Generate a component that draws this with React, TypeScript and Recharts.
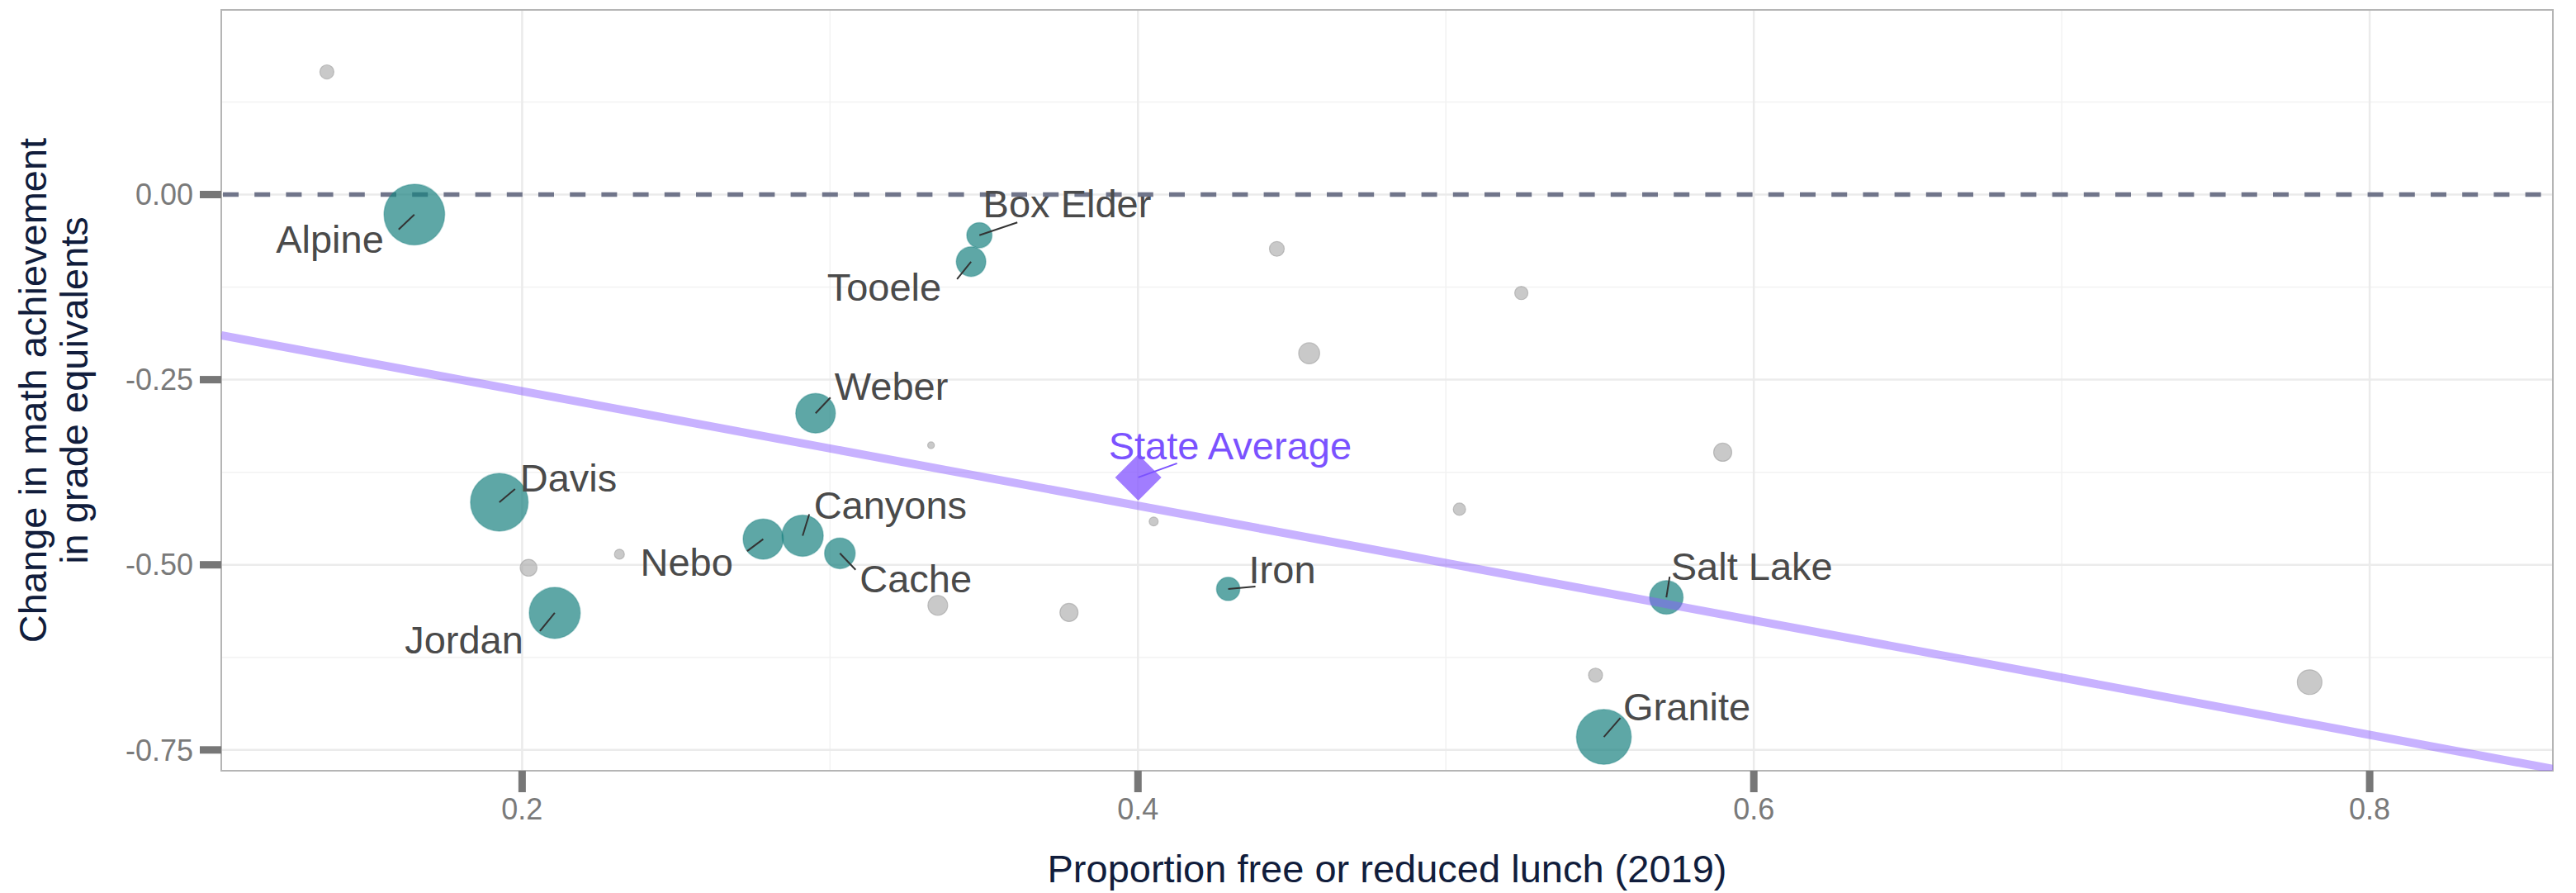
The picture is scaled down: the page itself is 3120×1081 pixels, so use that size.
import React from 'react';
import { ScatterChart, Scatter, XAxis, YAxis, ZAxis, CartesianGrid, ReferenceArea } from 'recharts';

// ---- data ----
const districts = ['Alpine', 'Davis', 'Jordan', 'Granite', 'Canyons', 'Nebo', 'Weber', 'Salt Lake', 'Cache', 'Tooele', 'Box Elder', 'Iron'];
const districtFrl = [0.165, 0.1926, 0.2106, 0.5513, 0.2911, 0.2783, 0.2953, 0.5716, 0.3032, 0.3458, 0.3485, 0.4293];
const districtChange = [-0.027, -0.4155, -0.565, -0.7324, -0.4607, -0.4653, -0.2954, -0.544, -0.4845, -0.0907, -0.055, -0.5326];
const districtEnroll = [82, 74, 58, 67, 38, 36, 35, 25, 21, 19.5, 14.2, 12.2];

const otherFrl = [0.1366, 0.2021, 0.4451, 0.4556, 0.3328, 0.2316, 0.4051, 0.335, 0.3776, 0.5245, 0.5899, 0.5044, 0.5486, 0.7805];
const otherChange = [0.1656, -0.504, -0.0734, -0.2144, -0.3386, -0.4857, -0.4415, -0.5548, -0.5644, -0.133, -0.348, -0.4249, -0.649, -0.6585];
const otherEnroll = [4.4, 6.3, 4.9, 9.8, 1.0, 2.2, 1.8, 8.7, 7.3, 3.9, 7.3, 3.4, 4.4, 13.6];

const stateName = 'State Average';
const stateFrl = 0.4001;
const stateChange = -0.382;

const fitFrl = [0.1023, 0.8595];
const fitChange = [-0.19, -0.7757];

const xDomain = [0.1023, 0.8595];
const yDomain = [-0.7781, 0.2493];
const xTicks = [0.2, 0.4, 0.6, 0.8];
const xMinor = [0.3, 0.5, 0.7];
const yTicks = [-0.75, -0.5, -0.25, 0];
const yMinor = [-0.625, -0.375, -0.125, 0.125];
const referenceChange = 0;

const xTitle = 'Proportion free or reduced lunch (2019)';
const yTitle1 = 'Change in math achievement';
const yTitle2 = 'in grade equivalents';

// ---- label placement (layout only) ----
const labelPlacement: Record<string, { dx: number; dy: number; anchor: string; lx: number; ly: number }> = {
  Alpine: { dx: -37, dy: 46, anchor: 'end', lx: -19, ly: 18 },
  Davis: { dx: 25, dy: -13, anchor: 'start', lx: 19, ly: -16 },
  Jordan: { dx: -38, dy: 49, anchor: 'end', lx: -18, ly: 22 },
  Granite: { dx: 23.5, dy: -20, anchor: 'start', lx: 20, ly: -23 },
  Canyons: { dx: 13.5, dy: -20, anchor: 'start', lx: 8, ly: -26 },
  Nebo: { dx: -36.5, dy: 44, anchor: 'end', lx: -19.5, ly: 14.5 },
  Weber: { dx: 23, dy: -16.5, anchor: 'start', lx: 18, ly: -19 },
  'Salt Lake': { dx: 5.5, dy: -21.4, anchor: 'start', lx: 4, ly: -25 },
  Cache: { dx: 24, dy: 47.5, anchor: 'start', lx: 19, ly: 20 },
  Tooele: { dx: -36, dy: 47, anchor: 'end', lx: -17, ly: 21 },
  'Box Elder': { dx: 4.4, dy: -21.4, anchor: 'start', lx: 46, ly: -15.5 },
  Iron: { dx: 25, dy: -6.6, anchor: 'start', lx: 33, ly: -3 },
  'State Average': { dx: -36, dy: -22, anchor: 'start', lx: 47, ly: -17 },
};

const districtData = districts.map((name, i) => ({ name, frl: districtFrl[i], change: districtChange[i], enroll: districtEnroll[i] }));
const otherData = otherFrl.map((x, i) => ({ name: 'other' + i, frl: x, change: otherChange[i], enroll: otherEnroll[i] }));
const stateData = [{ name: stateName, frl: stateFrl, change: stateChange, enroll: 1 }];
const fitData = fitFrl.map((x, i) => ({ frl: x, change: fitChange[i], enroll: 1 }));
const zeroData = xDomain.map((x) => ({ frl: x, change: referenceChange, enroll: 1 }));
const labelData = [...districtData, ...stateData];

const FONT = '"Liberation Sans", Arial, Helvetica, sans-serif';
const TEAL = '#1a8180';

const Bubble = (props: any) => {
  const { cx, cy, size } = props;
  const r = Math.sqrt((size ?? 200) / Math.PI);
  return <circle cx={cx} cy={cy} r={r} fill={TEAL} fillOpacity={0.7} stroke={TEAL} strokeOpacity={0.35} strokeWidth={1.5} />;
};

const GreyDot = (props: any) => {
  const { cx, cy, size } = props;
  const r = Math.sqrt((size ?? 50) / Math.PI);
  return <circle cx={cx} cy={cy} r={r} fill="#a5a5a5" fillOpacity={0.6} stroke="#a0a0a0" strokeOpacity={0.6} strokeWidth={1.2} />;
};

const Diamond = (props: any) => {
  const { cx, cy } = props;
  const h = 28;
  return (
    <polygon
      points={`${cx},${cy - h} ${cx + h},${cy} ${cx},${cy + h} ${cx - h},${cy}`}
      fill="#8a5cff"
      fillOpacity={0.8}
    />
  );
};

const Nothing = () => <g />;

const PointLabel = (props: any) => {
  const { cx, cy } = props;
  const name = props.payload?.name ?? props.name;
  const p = labelPlacement[name];
  if (!p || cx == null) return <g />;
  const isState = name === stateName;
  return (
    <g>
      <line x1={cx} y1={cy} x2={cx + p.lx} y2={cy + p.ly} stroke={isState ? '#7b52ff' : '#333333'} strokeWidth={2} />
      <text
        x={cx + p.dx}
        y={cy + p.dy}
        textAnchor={p.anchor as any}
        fontFamily={FONT}
        fontSize={47}
        fill={isState ? '#7b52ff' : '#4a4a4a'}
      >
        {name}
      </text>
    </g>
  );
};

const XTitle = (props: any) => {
  const vb = props.viewBox || { x: 268, y: 933, width: 2824, height: 148 };
  const cx = vb.x + vb.width / 2;
  return (
    <text x={cx} y={1068} textAnchor="middle" fontFamily={FONT} fontSize={47} fill="#111d3c">
      {xTitle}
    </text>
  );
};

const YTitle = () => {
  const cy = 472.5;
  return (
    <g>
      <text x={56} y={cy} transform={`rotate(-90, 56, ${cy})`} textAnchor="middle" fontFamily={FONT} fontSize={47} fill="#111d3c">
        {yTitle1}
      </text>
      <text x={106} y={cy} transform={`rotate(-90, 106, ${cy})`} textAnchor="middle" fontFamily={FONT} fontSize={47} fill="#111d3c">
        {yTitle2}
      </text>
    </g>
  );
};

export default function App() {
  return (
    <div style={{ position: 'absolute', left: 0, top: 0, width: 3120, height: 1081, background: '#ffffff' }}>
      <ScatterChart width={3120} height={1081} margin={{ top: 12, right: 28, bottom: 0, left: 0 }}>
        <CartesianGrid horizontalValues={yMinor} verticalValues={xMinor} stroke="#f2f2f2" strokeWidth={1.5} />
        <CartesianGrid horizontalValues={yTicks} verticalValues={xTicks} stroke="#ebebeb" strokeWidth={2.5} />
        <XAxis
          type="number"
          dataKey="frl"
          domain={xDomain}
          allowDataOverflow
          ticks={xTicks}
          interval={0}
          height={148}
          axisLine={false}
          tickSize={26}
          tickMargin={7}
          tickLine={{ stroke: '#777777', strokeWidth: 9 }}
          tick={{ fontSize: 36, fill: '#7a7a7a', fontFamily: FONT }}
          tickFormatter={(v: number) => String(v)}
          label={{ content: XTitle }}
        />
        <YAxis
          type="number"
          dataKey="change"
          domain={yDomain}
          allowDataOverflow
          ticks={yTicks}
          interval={0}
          width={268}
          axisLine={false}
          tickSize={26}
          tickMargin={8}
          tickLine={{ stroke: '#777777', strokeWidth: 9 }}
          tick={{ fontSize: 36, fill: '#7a7a7a', fontFamily: FONT }}
          tickFormatter={(v: number) => v.toFixed(2)}
          label={{ content: YTitle }}
        />
        <ZAxis type="number" dataKey="enroll" domain={[0, 100]} range={[0, 5184]} />
        <Scatter
          data={zeroData}
          isAnimationActive={false}
          shape={Nothing}
          line={{ stroke: '#70758a', strokeWidth: 5.5, strokeDasharray: '19 19.2', strokeDashoffset: -2 }}
          fill="#70758a"
        />
        <Scatter data={otherData} isAnimationActive={false} shape={GreyDot} fill="#a5a5a5" />
        <Scatter data={districtData} isAnimationActive={false} shape={Bubble} fill={TEAL} />
        <Scatter
          data={fitData}
          isAnimationActive={false}
          shape={Nothing}
          line={{ stroke: '#8a5cff', strokeOpacity: 0.47, strokeWidth: 10 }}
          fill="#8a5cff"
        />
        <Scatter data={stateData} isAnimationActive={false} shape={Diamond} fill="#8a5cff" />
        <Scatter data={labelData} isAnimationActive={false} shape={PointLabel} fill="#4a4a4a" />
        <ReferenceArea
          x1={xDomain[0]}
          x2={xDomain[1]}
          y1={yDomain[0]}
          y2={yDomain[1]}
          fill="none"
          fillOpacity={0}
          stroke="#b5b5b5"
          strokeWidth={2}
          ifOverflow="visible"
        />
      </ScatterChart>
    </div>
  );
}
